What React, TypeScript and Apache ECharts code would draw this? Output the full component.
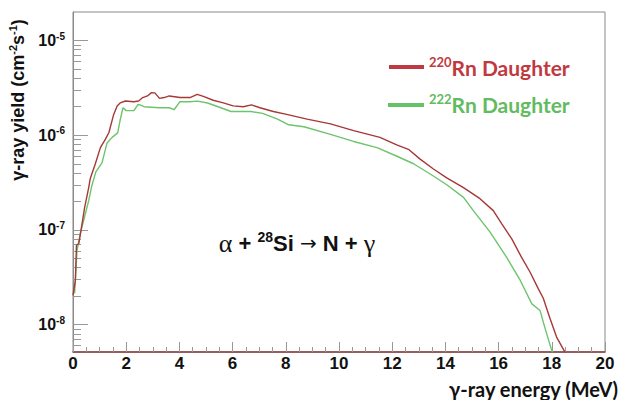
import React, { useEffect, useRef } from "react";
import * as echarts from "echarts";

// gamma-ray energy (MeV) and yield (cm^-2 s^-1)
const rn220Energy = [0.0, 0.09, 0.13, 0.22, 0.32, 0.44, 0.59, 0.65, 0.84, 1.03, 1.22, 1.35, 1.53, 1.66, 1.78, 1.97, 2.28, 2.47, 2.62, 2.8, 2.95, 3.08, 3.25, 3.43, 3.62, 4.02, 4.4, 4.67, 4.9, 5.27, 5.65, 6.02, 6.4, 6.71, 7.03, 7.53, 8.03, 8.8, 9.68, 10.55, 11.54, 12.17, 12.61, 13.05, 13.55, 14.05, 14.68, 15.3, 15.8, 16.12, 16.49, 16.87, 17.18, 17.49, 17.68, 17.93, 18.18, 18.5];
const rn220Yield = [2.04e-8, 2.95e-8, 6.9e-8, 7.2e-8, 1.07e-7, 1.74e-7, 2.8e-7, 3.5e-7, 5.0e-7, 7.4e-7, 9.1e-7, 1.07e-6, 1.66e-6, 2.04e-6, 2.2e-6, 2.3e-6, 2.26e-6, 2.3e-6, 2.5e-6, 2.6e-6, 2.82e-6, 2.8e-6, 2.45e-6, 2.5e-6, 2.6e-6, 2.5e-6, 2.5e-6, 2.7e-6, 2.57e-6, 2.34e-6, 2.2e-6, 2.04e-6, 2.0e-6, 2.09e-6, 1.95e-6, 1.78e-6, 1.66e-6, 1.48e-6, 1.32e-6, 1.12e-6, 9.5e-7, 7.9e-7, 7.1e-7, 5.6e-7, 4.4e-7, 3.55e-7, 2.8e-7, 2.14e-7, 1.6e-7, 1.16e-7, 8.1e-8, 5.1e-8, 3.6e-8, 2.4e-8, 1.9e-8, 1.17e-8, 7.4e-9, 5.1e-9];

const rn222Energy = [0.06, 0.15, 0.27, 0.4, 0.59, 0.71, 0.86, 1.09, 1.28, 1.47, 1.68, 1.78, 1.88, 2.0, 2.29, 2.44, 2.52, 2.67, 3.24, 3.62, 3.8, 4.02, 4.37, 4.68, 5.06, 5.56, 5.94, 6.69, 7.13, 7.69, 8.11, 8.68, 9.68, 10.55, 11.43, 12.18, 12.8, 13.43, 14.05, 14.68, 15.05, 15.68, 16.31, 16.81, 17.25, 17.56, 17.75, 18.02];
const rn222Yield = [2.14e-8, 6.0e-8, 9.1e-8, 1.26e-7, 2.04e-7, 2.95e-7, 4.1e-7, 5.1e-7, 8.3e-7, 9.5e-7, 1.06e-6, 1.48e-6, 1.95e-6, 1.82e-6, 1.82e-6, 2.11e-6, 2.09e-6, 2.0e-6, 1.95e-6, 1.95e-6, 1.86e-6, 2.26e-6, 2.26e-6, 2.29e-6, 2.19e-6, 1.95e-6, 1.78e-6, 1.78e-6, 1.7e-6, 1.48e-6, 1.29e-6, 1.23e-6, 1.02e-6, 8.6e-7, 7.4e-7, 6.0e-7, 5.0e-7, 3.9e-7, 3.0e-7, 2.21e-7, 1.6e-7, 9.5e-8, 5.1e-8, 2.95e-8, 1.66e-8, 1.41e-8, 9.1e-9, 5.1e-9];

const yMajorExponents = [-8, -7, -6, -5];
const yMinorMantissas = [2, 3, 4, 5, 6, 7, 8, 9];
const yMin = 5.15e-9;
const yMax = 2.0e-5;

const ARIAL = "'Liberation Sans', Arial, sans-serif";
const CAL = "Lato, 'Open Sans', sans-serif";

export default function App() {
  const ref = useRef<HTMLDivElement>(null);
  useEffect(() => {
    document.body.style.margin = "0";
    const chart = echarts.init(ref.current!, null, { renderer: "svg" });
    const lmin = Math.log10(yMin);
    const lmax = Math.log10(yMax);
    const minors: number[] = [];
    for (let e = -9; e <= -5; e++) {
      for (const m of yMinorMantissas) {
        const v = Math.log10(m) + e;
        if (v > lmin && v < lmax) minors.push(v);
      }
    }
    const toPts = (xs: number[], ys: number[]) => xs.map((x, i) => [x, Math.log10(ys[i])]);
    const supRich = {
      b: { fontFamily: ARIAL, fontWeight: "bold", fontSize: 16, color: "#111", lineHeight: 19 },
      s: { fontFamily: ARIAL, fontWeight: "bold", fontSize: 10, color: "#111", lineHeight: 11, verticalAlign: "top" },
    };
    chart.setOption({
      animation: false,
      backgroundColor: "#fff",
      grid: { left: 73, right: 16, top: 12, bottom: 48, show: true, borderColor: "#8a8a8a", borderWidth: 1 },
      xAxis: {
        type: "value",
        min: 0,
        max: 20,
        interval: 2,
        axisLine: { show: true, lineStyle: { color: "#8b3a3a", width: 1.5 } },
        axisTick: { show: true, inside: true, length: 10, lineStyle: { color: "#999" } },
        minorTick: { show: true, splitNumber: 4, length: 5, lineStyle: { color: "#999" } },
        splitLine: { show: false },
        axisLabel: { fontFamily: ARIAL, fontWeight: "bold", fontSize: 17, color: "#111", margin: 3 },
      },
      yAxis: [
        {
          type: "value",
          min: lmin,
          max: lmax,
          axisLine: { show: true, lineStyle: { color: "#8a8a8a" } },
          axisTick: { show: true, inside: true, length: 15, lineStyle: { color: "#999" }, customValues: yMajorExponents },
          splitLine: { show: false },
          axisLabel: {
            customValues: yMajorExponents,
            margin: 8,
            formatter: (v: number) => `{b|10}{s|${Math.round(v)}}`,
            rich: supRich,
          },
        },
        {
          type: "value",
          position: "left",
          min: lmin,
          max: lmax,
          axisLine: { show: false },
          axisTick: { show: true, inside: true, length: 8, lineStyle: { color: "#999" }, customValues: minors },
          splitLine: { show: false },
          axisLabel: { show: false },
        },
      ],
      series: [
        {
          name: "222Rn Daughter",
          type: "line",
          showSymbol: false,
          data: toPts(rn222Energy, rn222Yield),
          lineStyle: { color: "#6cc46c", width: 1.4 },
          clip: true,
          z: 2,
        },
        {
          name: "220Rn Daughter",
          type: "line",
          showSymbol: false,
          data: toPts(rn220Energy, rn220Yield),
          lineStyle: { color: "#a63838", width: 1.4 },
          clip: true,
          z: 3,
        },
      ],
      graphic: [
        {
          type: "text",
          x: 18,
          y: 100,
          rotation: Math.PI / 2,
          style: {
            text: "{b|γ-ray yield (cm}{s|-2}{b|s}{s|-1}{b|)}",
            align: "center",
            verticalAlign: "middle",
            rich: {
              b: { fontFamily: ARIAL, fontWeight: "bold", fontSize: 18, fill: "#111", lineHeight: 21 },
              s: { fontFamily: ARIAL, fontWeight: "bold", fontSize: 11, fill: "#111", lineHeight: 12, verticalAlign: "top" },
            },
          },
        },
        {
          type: "text",
          x: 618,
          y: 389,
          style: {
            text: "γ-ray energy (MeV)",
            align: "right",
            verticalAlign: "middle",
            font: `bold 20px ${CAL}`,
            fill: "#111",
          },
        },
        { type: "line", shape: { x1: 389, y1: 67, x2: 424, y2: 67 }, style: { stroke: "#bf3a40", lineWidth: 4 } },
        {
          type: "text",
          x: 429,
          y: 67,
          style: {
            text: "{s|220}{b|Rn Daughter}",
            verticalAlign: "middle",
            rich: {
              b: { fontFamily: CAL, fontWeight: "bold", fontSize: 21, fill: "#bf3a40", lineHeight: 24 },
              s: { fontFamily: CAL, fontWeight: "bold", fontSize: 13, fill: "#bf3a40", lineHeight: 14, verticalAlign: "top" },
            },
          },
        },
        { type: "line", shape: { x1: 388, y1: 105, x2: 424, y2: 105 }, style: { stroke: "#66c266", lineWidth: 4 } },
        {
          type: "text",
          x: 429,
          y: 104,
          style: {
            text: "{s|222}{b|Rn Daughter}",
            verticalAlign: "middle",
            rich: {
              b: { fontFamily: CAL, fontWeight: "bold", fontSize: 21, fill: "#62bb5e", lineHeight: 24 },
              s: { fontFamily: CAL, fontWeight: "bold", fontSize: 13, fill: "#62bb5e", lineHeight: 14, verticalAlign: "top" },
            },
          },
        },
        {
          type: "text",
          x: 297,
          y: 243,
          style: {
            text: "{g|α}{b| + }{s|28}{b|Si }{n|→}{b| N + }{g|γ}",
            align: "center",
            verticalAlign: "middle",
            rich: {
              g: { fontFamily: "'Liberation Serif', serif", fontSize: 26, fill: "#111", lineHeight: 26 },
              n: { fontFamily: "'DejaVu Sans', sans-serif", fontSize: 20, fill: "#111", lineHeight: 26 },
              b: { fontFamily: ARIAL, fontWeight: "bold", fontSize: 22, fill: "#111", lineHeight: 26 },
              s: { fontFamily: ARIAL, fontWeight: "bold", fontSize: 14, fill: "#111", lineHeight: 15, verticalAlign: "top" },
            },
          },
        },
      ],
    });
    return () => chart.dispose();
  }, []);
  return <div ref={ref} style={{ width: 621, height: 400 }} />;
}
